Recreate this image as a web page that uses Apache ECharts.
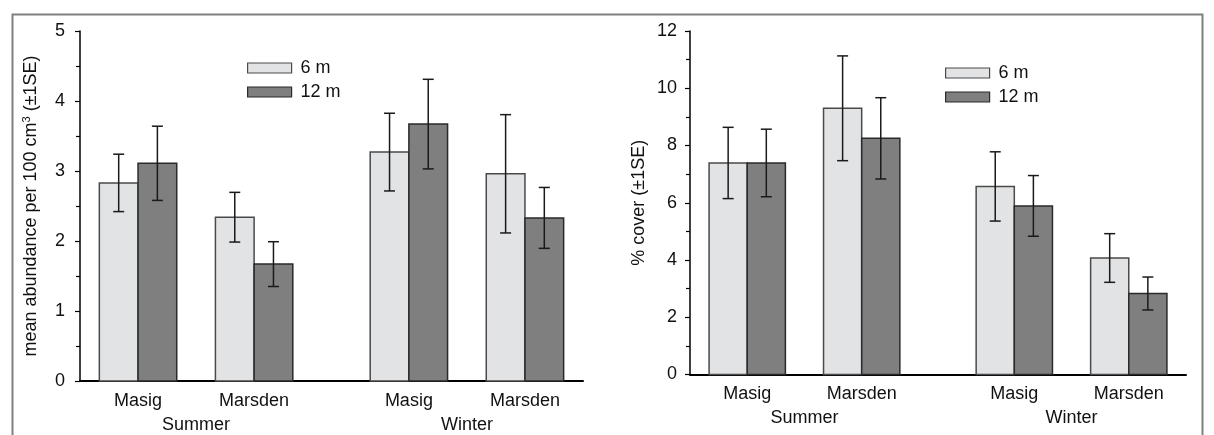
<!DOCTYPE html>
<html>
<head>
<meta charset="utf-8">
<script src="https://cdn.jsdelivr.net/npm/echarts@6/dist/echarts.min.js"></script>
<style>
html,body{margin:0;padding:0;background:#fff;}
#chart{width:1214px;height:435px;}
</style>
</head>
<body>
<div id="chart"></div>
<script>
// ---- data ----
const sites = ['Masig', 'Marsden'];
const seasons = ['Summer', 'Winter'];
const depths = ['6 m', '12 m'];
// order: Summer-Masig, Summer-Marsden, Winter-Masig, Winter-Marsden
const abund6 = [2.83, 2.34, 3.27, 2.96];
const abund6SE = [0.41, 0.355, 0.555, 0.845];
const abund12 = [3.11, 1.67, 3.67, 2.33];
const abund12SE = [0.53, 0.32, 0.64, 0.435];
const cover6 = [7.39, 9.30, 6.57, 4.07];
const cover6SE = [1.245, 1.83, 1.21, 0.85];
const cover12 = [7.39, 8.25, 5.89, 2.83];
const cover12SE = [1.18, 1.42, 1.06, 0.575];
const abundTicks = [0, 1, 2, 3, 4, 5];
const coverTicks = [0, 2, 4, 6, 8, 10, 12];

// ---- layout helpers (slot units on a value x axis) ----
function groupCenter(g) { const s = Math.floor(g / 2), k = g % 2; return 1.5 + 3 * k + 7 * s; }
const groupCenters = [0, 1, 2, 3].map(groupCenter);
const seasonCenters = [0, 1].map(s => (groupCenter(2 * s) + groupCenter(2 * s + 1)) / 2);
const FONT = "'Liberation Sans', Arial, sans-serif";
const fills = ['#e2e3e5', '#7f7f7f'];
const borders = ['#4a4a4a', '#2a2a2a'];

function makeData(vals, ses, d) {
  return vals.map((v, g) => [groupCenter(g) + (d === 0 ? -0.5 : 0.5), v, v - ses[g], v + ses[g]]);
}

function renderBar(d) {
  return function (params, api) {
    const x = api.value(0), y = api.value(1), lo = api.value(2), hi = api.value(3);
    const w = api.size([1, 0])[0];
    const top = api.coord([x, y]);
    const base = api.coord([x, 0]);
    const pHi = api.coord([x, hi]);
    const pLo = api.coord([x, lo]);
    const cap = 5.5;
    const lineStyle = { stroke: '#1a1a1a', lineWidth: 1.5 };
    return {
      type: 'group',
      children: [
        { type: 'rect', shape: { x: top[0] - w / 2, y: top[1], width: w, height: base[1] - top[1] },
          style: { fill: fills[d], stroke: borders[d], lineWidth: 1.5 } },
        { type: 'line', shape: { x1: pHi[0], y1: pHi[1], x2: pLo[0], y2: pLo[1] }, style: lineStyle },
        { type: 'line', shape: { x1: pHi[0] - cap, y1: pHi[1], x2: pHi[0] + cap, y2: pHi[1] }, style: lineStyle },
        { type: 'line', shape: { x1: pLo[0] - cap, y1: pLo[1], x2: pLo[0] + cap, y2: pLo[1] }, style: lineStyle }
      ]
    };
  };
}

function xAxes(gridIndex) {
  return [
    { type: 'value', gridIndex, min: 0, max: 13, position: 'bottom',
      axisLine: { show: true, onZero: false, lineStyle: { color: '#000', width: 2 } },
      axisTick: { show: false }, splitLine: { show: false },
      axisLabel: { customValues: groupCenters, margin: 11, color: '#111', fontSize: 18, fontFamily: FONT,
        formatter: v => { const i = groupCenters.indexOf(v); return i >= 0 ? sites[i % 2] : ''; } } },
    { type: 'value', gridIndex, min: 0, max: 13, position: 'bottom', offset: 24,
      axisLine: { show: false }, axisTick: { show: false }, splitLine: { show: false },
      axisLabel: { customValues: seasonCenters, margin: 11, color: '#111', fontSize: 18, fontFamily: FONT,
        formatter: v => { const i = seasonCenters.indexOf(v); return i >= 0 ? seasons[i] : ''; } } }
  ];
}

function yAxis(gridIndex, ticks, name, nameGap, margin) {
  const step = ticks[1] - ticks[0];
  return {
    type: 'value', gridIndex, min: ticks[0], max: ticks[ticks.length - 1], interval: step,
    name, nameLocation: 'middle', nameRotate: 90, nameGap,
    nameTextStyle: { fontSize: 18, lineHeight: 22, color: '#111', fontFamily: FONT,
      rich: { sup: { fontSize: 11, lineHeight: 22, padding: [0, 0, 9, 0], color: '#111', fontFamily: FONT } } },
    axisLine: { show: true, lineStyle: { color: '#000', width: 1.5 } },
    axisTick: { show: true, length: 5, lineStyle: { color: '#000', width: 1.2 } },
    minorTick: { show: true, splitNumber: 2, length: 4, lineStyle: { color: '#000', width: 1.2 } },
    splitLine: { show: false },
    axisLabel: { margin, color: '#111', fontSize: 18, fontFamily: FONT }
  };
}

const legendData = depths.map((n, d) => ({ name: n, itemStyle: { color: fills[d], borderColor: borders[d], borderWidth: 1.2 } }));
function legend(left, top) {
  return { left, top, padding: 0, orient: 'vertical', icon: 'rect', itemWidth: 44, itemHeight: 10, itemGap: 6,
    data: legendData, selectedMode: false,
    textStyle: { fontSize: 18, lineHeight: 18, color: '#111', fontFamily: FONT, padding: [0, 0, 0, 4] } };
}

const series = [];
[[abund6, abund6SE, abund12, abund12SE], [cover6, cover6SE, cover12, cover12SE]].forEach((arr, gi) => {
  [0, 1].forEach(d => {
    series.push({ type: 'custom', name: depths[d], xAxisIndex: gi * 2, yAxisIndex: gi,
      itemStyle: { color: fills[d], borderColor: borders[d] },
      data: makeData(arr[d * 2], arr[d * 2 + 1], d), renderItem: renderBar(d), clip: false });
  });
});

const chart = echarts.init(document.getElementById('chart'), null, { renderer: 'canvas' });
chart.setOption({
  animation: false,
  textStyle: { fontFamily: FONT },
  grid: [
    { left: 80, top: 31, width: 503, height: 350 },
    { left: 690, top: 31, width: 496, height: 343.5 }
  ],
  xAxis: [...xAxes(0), ...xAxes(1)],
  yAxis: [
    yAxis(0, abundTicks, 'mean abundance per 100 cm{sup|3} (±1SE)', 38, 15),
    yAxis(1, coverTicks, '% cover (±1SE)', 40, 13)
  ],
  legend: [legend(247, 59), legend(945, 64)],
  graphic: [
    { type: 'rect', left: 10, top: 12, shape: { width: 1190, height: 440 },
      style: { fill: 'none', stroke: '#808080', lineWidth: 2 } }
  ],
  series
});
</script>
</body>
</html>
